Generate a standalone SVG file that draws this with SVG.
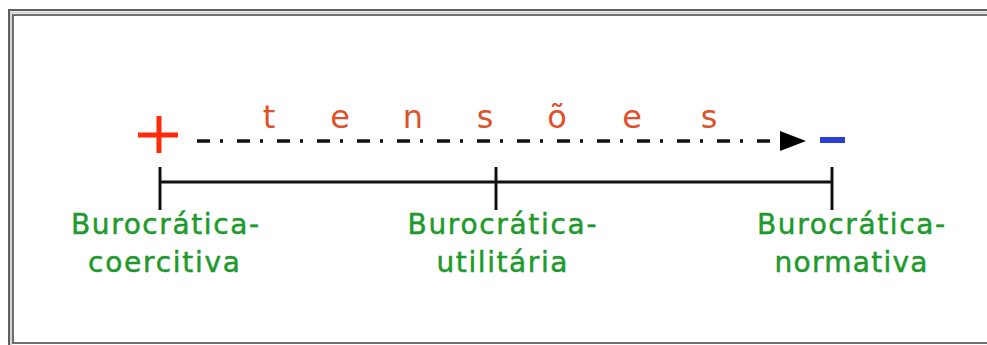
<svg xmlns="http://www.w3.org/2000/svg" width="987" height="345" viewBox="0 0 987 345">
  <defs>
    <marker id="arrowhead" markerUnits="userSpaceOnUse" markerWidth="26" markerHeight="20" refX="0" refY="10" orient="auto" overflow="visible">
      <path d="M0,0 L26,10 L0,20 Z" fill="#000"/>
    </marker>
    <style>
      .frame { fill: none; }
      .axis { stroke: #111; stroke-width: 3; fill: none; }
      .lbl { font-family: "DejaVu Sans", Verdana, sans-serif; font-size: 28px; fill: #1e9a2c; stroke: #1e9a2c; stroke-width: 0.5; text-anchor: middle; }
      .tens { font-family: "DejaVu Sans", sans-serif; font-size: 32px; fill: #e0502a; text-anchor: middle; }
    </style>
  </defs>

  <rect width="987" height="345" fill="#ffffff"/>

  <g id="frame">
    <rect class="frame" x="9" y="10" width="1000" height="345" stroke="#5e5e5e" stroke-width="2"/>
    <rect class="frame" x="11" y="12.5" width="1000" height="340" stroke="#d4d4d4" stroke-width="2"/>
    <rect class="frame" x="13" y="15" width="1000" height="328" stroke="#6e6e6e" stroke-width="2"/>
  </g>

  <g id="connectors">
    <line id="tension-arrow" x1="197" y1="141" x2="780" y2="141" stroke="#111" stroke-width="3.5" stroke-dasharray="13 10 3 14" marker-end="url(#arrowhead)"/>
    <line class="axis" x1="160" y1="182" x2="832" y2="182"/>
    <line class="axis" x1="160" y1="167" x2="160" y2="210"/>
    <line class="axis" x1="496" y1="167" x2="496" y2="210"/>
    <line class="axis" x1="832" y1="167" x2="832" y2="210"/>
  </g>

  <g id="plus-sign" fill="#ff2a0a">
    <rect x="138" y="132.5" width="40" height="5"/>
    <rect x="156.5" y="116" width="5" height="37"/>
  </g>

  <g id="minus-sign">
    <rect x="820" y="137" width="25" height="6" fill="#2b3fd4"/>
  </g>

  <g id="tensoes-label">
    <text class="tens" x="269 340 413 485 557 632 709" y="128">tensões</text>
  </g>

  <g id="node-coercitiva">
    <text class="lbl" x="165" y="234" textLength="188" lengthAdjust="spacing">Burocrática-</text>
    <text class="lbl" x="164" y="272" textLength="152" lengthAdjust="spacing">coercitiva</text>
  </g>

  <g id="node-utilitaria">
    <text class="lbl" x="502" y="234" textLength="189" lengthAdjust="spacing">Burocrática-</text>
    <text class="lbl" x="502" y="272" textLength="131" lengthAdjust="spacing">utilitária</text>
  </g>

  <g id="node-normativa">
    <text class="lbl" x="851" y="234" textLength="188" lengthAdjust="spacing">Burocrática-</text>
    <text class="lbl" x="851" y="272" textLength="153" lengthAdjust="spacing">normativa</text>
  </g>
</svg>
